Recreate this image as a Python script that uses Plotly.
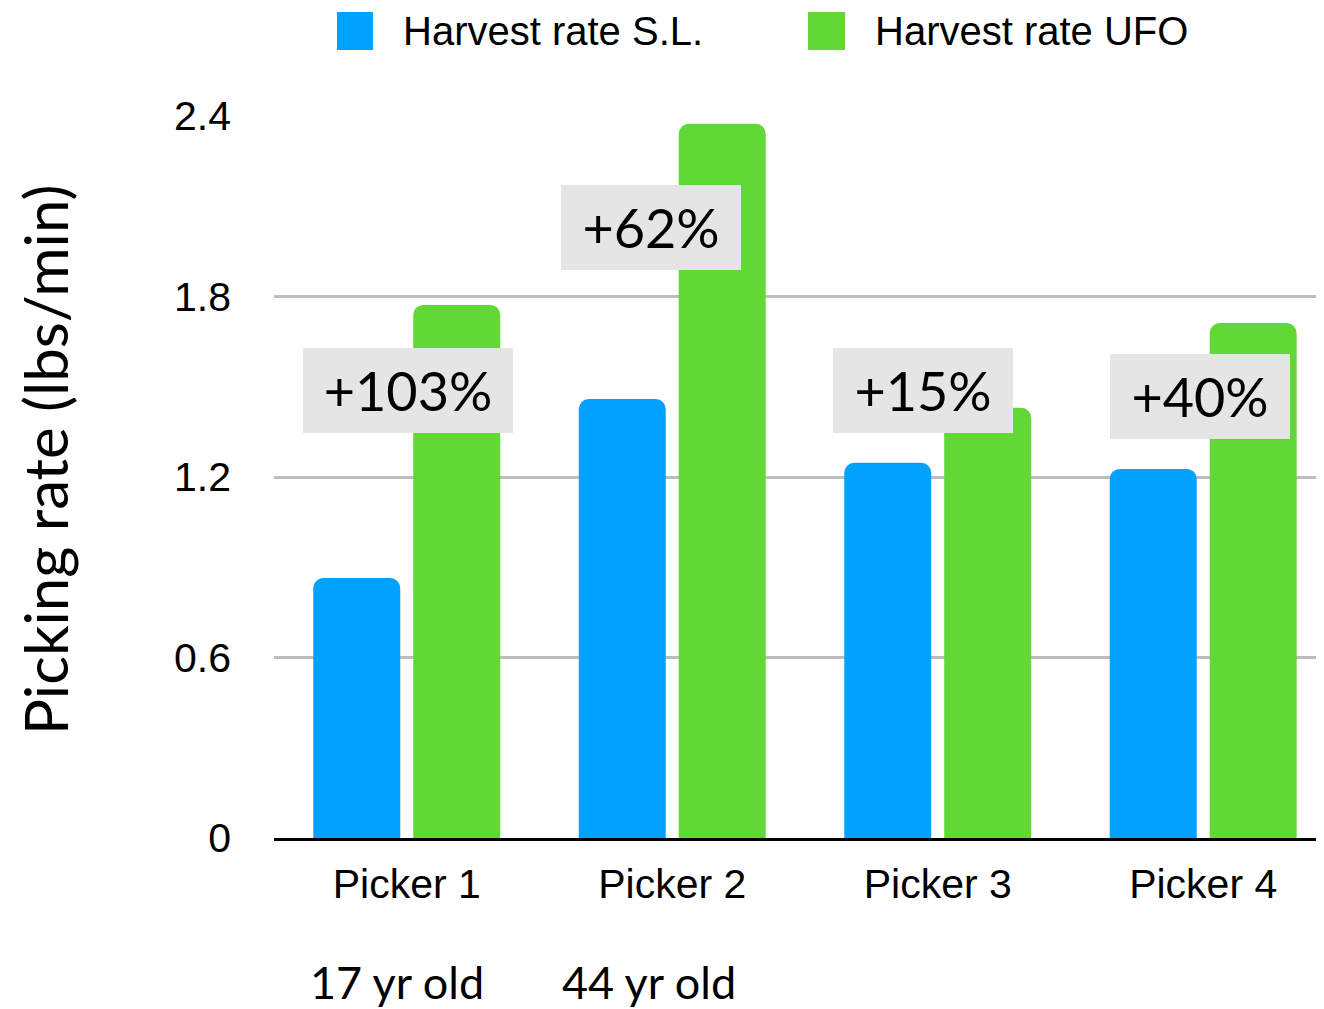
import plotly.graph_objects as go

# ---- data ----
categories = ["Picker 1", "Picker 2", "Picker 3", "Picker 4"]
rate_sl = [0.864, 1.459, 1.247, 1.227]
rate_ufo = [1.772, 2.374, 1.430, 1.712]
gain_labels = ["+103%", "+62%", "+15%", "+40%"]
age_labels = ["17 yr old", "44 yr old"]
y_ticks = [0, 0.6, 1.2, 1.8, 2.4]
y_ticktext = ["0", "0.6", "1.2", "1.8", "2.4"]
series_names = ["Harvest rate S.L.", "Harvest rate UFO"]

BLUE = "#00A2FF"
GREEN = "#61D836"
SANS = "Liberation Sans, Arial, sans-serif"
ROUND = "Lato, 'Noto Sans', sans-serif"

# plot-area pixel geometry (page coords) used for paper conversions
PL, PR, PT, PB = 274, 1324, 116, 838
PW, PH = PR - PL, PB - PT
FIG_W, FIG_H = 1316, 1001  # page body has an 8px margin


def px(x):
    return (x - PL) / PW


def py(y):
    return (PB - y) / PH


fig = go.Figure()
fig.add_trace(go.Bar(x=categories, y=rate_sl, name=series_names[0],
                     marker=dict(color=BLUE, cornerradius=10, line=dict(width=0))))
fig.add_trace(go.Bar(x=categories, y=rate_ufo, name=series_names[1],
                     marker=dict(color=GREEN, cornerradius=10, line=dict(width=0))))

# percentage boxes (layout offsets)
box_specs = [  # (xshift, y, width)
    (1, 1.488, 210),
    (-21, 2.031, 180),
    (-14.5, 1.488, 180),
    (-3, 1.468, 180),
]
for cat, txt, (xs, yv, w) in zip(categories, gain_labels, box_specs):
    fig.add_annotation(x=cat, y=yv, xref="x", yref="y", text=txt, showarrow=False,
                       xshift=xs, width=w, height=85, bgcolor="#E5E5E5",
                       borderpad=0, borderwidth=0,
                       font=dict(family=ROUND, size=54, color="black"),
                       xanchor="center", yanchor="middle")

# age labels below categories
for cat, txt, xs in zip(categories, age_labels, [-10, -23]):
    fig.add_annotation(x=cat, y=py(982), xref="x", yref="paper", text=txt,
                       showarrow=False, xshift=xs,
                       font=dict(family=ROUND, size=45, color="black"),
                       xanchor="center", yanchor="middle")

# y-axis title
fig.add_annotation(x=px(45), y=py(460), xref="paper", yref="paper",
                   text="Picking rate (lbs/min)", showarrow=False, textangle=-90,
                   font=dict(family=ROUND, size=60, color="black"),
                   xanchor="center", yanchor="middle")

# custom legend
legend_items = [(337, 373, BLUE, 401), (808, 845, GREEN, 873)]
for (x0, x1, col, tx), name in zip(legend_items, series_names):
    fig.add_shape(type="rect", xref="paper", yref="paper",
                  x0=px(x0), x1=px(x1), y0=py(50), y1=py(12),
                  fillcolor=col, line=dict(width=0))
    fig.add_annotation(x=px(tx), y=py(31), xref="paper", yref="paper",
                       text=name, showarrow=False, xanchor="left", yanchor="middle",
                       font=dict(family=SANS, size=40, color="black"))

fig.update_layout(
    width=FIG_W, height=FIG_H,
    margin=dict(l=PL - 8, r=0, t=PT - 8, b=FIG_H - (PB - 8), pad=0),
    paper_bgcolor="white", plot_bgcolor="white",
    barmode="group", bargap=0.247, bargroupgap=0.13,
    showlegend=False,
    xaxis=dict(range=[-0.5, 3.455], showgrid=False, showline=True, linecolor="black",
               linewidth=2.5, ticks="", ticklabelstandoff=8,
               tickfont=dict(family=SANS, size=41, color="black")),
    yaxis=dict(range=[0, 2.4], tickvals=y_ticks, ticktext=y_ticktext,
               showgrid=True, gridcolor="#BDBDBD", gridwidth=2.5,
               zeroline=False, showline=False, ticks="", ticklabelstandoff=42,
               tickfont=dict(family=SANS, size=41, color="black")),
)

fig.write_html("out.html")
